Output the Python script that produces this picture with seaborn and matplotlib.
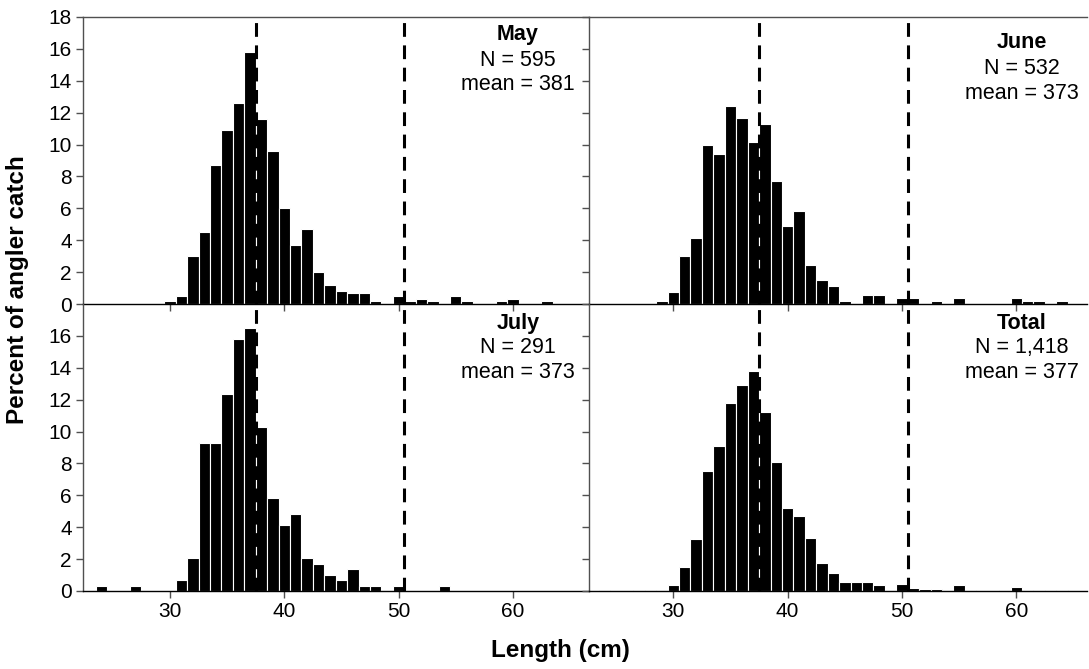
import numpy as np
import pandas as pd
import matplotlib
matplotlib.use("Agg")
import matplotlib.pyplot as plt
import seaborn as sns

# ---------------- data (percent of angler catch by 1-cm length class) -------------
lengths = list(range(24, 65))  # 24 ... 64 cm

may_pct = [0, 0, 0, 0, 0, 0, 0.17, 0.50, 3.03, 4.54, 8.74, 10.92, 12.61, 15.80,
           11.60, 9.58, 6.05, 3.70, 4.71, 2.02, 1.18, 0.84, 0.67, 0.67, 0.17, 0,
           0.50, 0.17, 0.34, 0.17, 0, 0.50, 0.17, 0, 0, 0.17, 0.34, 0, 0, 0.17, 0]
june_pct = [0, 0, 0, 0, 0, 0.19, 0.75, 3.01, 4.14, 9.96, 9.40, 12.41, 11.65, 10.15,
            11.28, 7.71, 4.89, 5.83, 2.44, 1.50, 1.13, 0.19, 0, 0.56, 0.56, 0,
            0.38, 0.38, 0, 0.19, 0, 0.38, 0, 0, 0, 0, 0.38, 0.19, 0.19, 0, 0.19]
july_pct = [0.34, 0, 0, 0.34, 0, 0, 0, 0.69, 2.06, 9.28, 9.28, 12.37, 15.81, 16.49,
            10.31, 5.84, 4.12, 4.81, 2.06, 1.72, 1.03, 0.69, 1.37, 0.34, 0.34, 0,
            0.34, 0, 0, 0, 0.34, 0, 0, 0, 0, 0, 0, 0, 0, 0, 0]
total_pct = [0.07, 0, 0, 0.07, 0, 0.07, 0.35, 1.48, 3.24, 7.55, 9.10, 11.78, 12.91, 13.82,
             11.21, 8.11, 5.22, 4.72, 3.31, 1.76, 1.13, 0.56, 0.56, 0.56, 0.35, 0,
             0.42, 0.21, 0.14, 0.14, 0.07, 0.35, 0.07, 0, 0, 0.07, 0.28, 0.07, 0.07, 0.07, 0.07]

panel_titles = ["May", "June", "July", "Total"]
panel_n = ["N = 595", "N = 532", "N = 291", "N = 1,418"]
panel_mean = ["mean = 381", "mean = 373", "mean = 373", "mean = 377"]
limit_lines = [37.5, 50.5]
x_ticks = [30, 40, 50, 60]
y_ticks = list(range(0, 19, 2))

series = [may_pct, june_pct, july_pct, total_pct]

# ---------------- figure ----------------
sns.set_style("white")
plt.rcParams["font.family"] = ["Liberation Sans", "DejaVu Sans"]
plt.rcParams["text.color"] = "black"
plt.rcParams["xtick.color"] = "black"
plt.rcParams["ytick.color"] = "black"
plt.rcParams["axes.labelcolor"] = "black"

W, H = 1089, 669
fig = plt.figure(figsize=(W / 100, H / 100), dpi=100)

def box(x0, y0, x1, y1):
    return [x0 / W, 1 - y1 / H, (x1 - x0) / W, (y1 - y0) / H]

positions = [box(83, 17, 589, 304), box(589, 17, 1087, 304),
             box(83, 304, 589, 591), box(589, 304, 1087, 591)]
xlims = [(22.39, 66.66), (22.62, 66.19), (22.39, 66.66), (22.62, 66.19)]
text_pos = [(60.45, [16.9, 15.3, 13.75]), (60.5, [16.4, 14.8, 13.2]),
            (60.45, [16.75, 15.25, 13.7]), (60.5, [16.8, 15.25, 13.7])]

spine_col = "#505050"
for i, (pos, vals) in enumerate(zip(positions, series)):
    ax = fig.add_axes(pos)
    ax.set_facecolor("none")
    df = pd.DataFrame({"length": lengths, "pct": vals})
    df = df[df["pct"] > 0]
    sns.histplot(data=df, x="length", weights="pct", discrete=True, ax=ax,
                 color="black", alpha=1, edgecolor="white", linewidth=0.8)
    for xl in limit_lines:
        ax.axvline(xl, color="black", lw=2.2, ls=(0, (4.5, 2.8)), zorder=3)
    ax.set_xlim(*xlims[i])
    ax.set_ylim(0, 18)
    ax.set_xlabel("")
    ax.set_ylabel("")
    ax.set_xticks(x_ticks)
    top = i < 2
    left = i % 2 == 0
    if top:
        ax.set_yticks(y_ticks)
    else:
        ax.set_yticks(y_ticks[:-1])
    ax.tick_params(axis="both", direction="out", length=5, width=1,
                   color=spine_col, labelsize=15, pad=3,
                   bottom=True, left=True)
    if top:
        ax.tick_params(axis="x", labelbottom=False)
    if not left:
        ax.tick_params(axis="y", labelleft=False)
    for s in ["left", "bottom", "top", "right"]:
        ax.spines[s].set_color(spine_col)
        ax.spines[s].set_linewidth(1)
    ax.spines["right"].set_visible(False)
    ax.spines["top"].set_visible(top)
    ax.spines["bottom"].set_color("black")
    tx, tys = text_pos[i]
    ax.text(tx, tys[0], panel_titles[i], ha="center", va="center",
            fontsize=15.5, fontweight="bold")
    ax.text(tx, tys[1], panel_n[i], ha="center", va="center", fontsize=15.5)
    ax.text(tx, tys[2], panel_mean[i], ha="center", va="center", fontsize=15.5)

fig.text(18 / W, 1 - 290 / H, "Percent of angler catch", rotation=90,
         ha="center", va="center", fontsize=17.5, fontweight="bold")
fig.text(560 / W, 1 - 650 / H, "Length (cm)", ha="center", va="center",
         fontsize=17.5, fontweight="bold")

fig.savefig("out.png", dpi=100)
